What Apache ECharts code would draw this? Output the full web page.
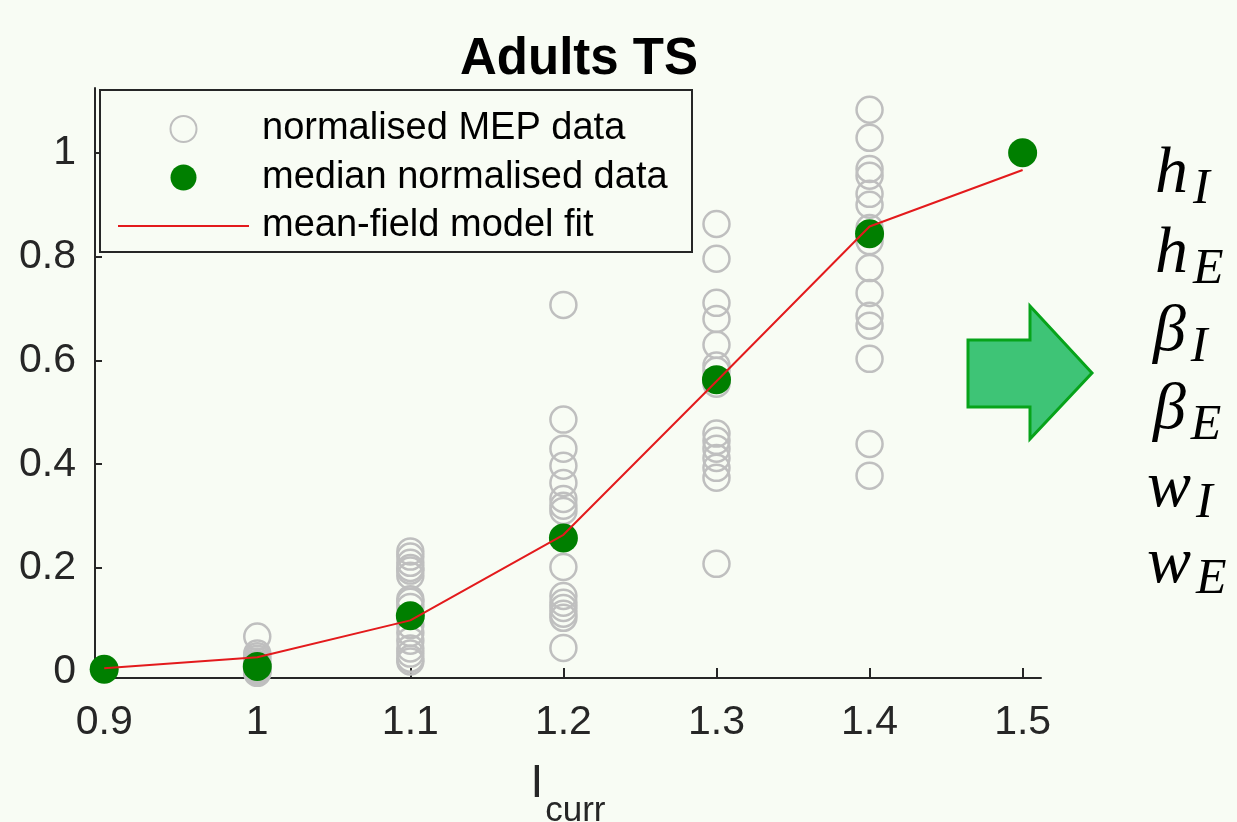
<!DOCTYPE html>
<html>
<head>
<meta charset="utf-8">
<title>Adults TS</title>
<script src="https://cdn.jsdelivr.net/npm/echarts@6.0.0/dist/echarts.min.js"></script>
<style>
  html, body { margin: 0; padding: 0; background: #f8fcf4; }
  #chart { width: 1237px; height: 822px; }
</style>
</head>
<body>
<div id="chart"></div>
<script>
// stimulation intensities (x) and tick labels
var xTicks = [0.9, 1, 1.1, 1.2, 1.3, 1.4, 1.5];
var yTicks = [0, 0.2, 0.4, 0.6, 0.8, 1];

// normalised MEP data, one list per intensity
var mep10 = [0.068, 0.035, 0.03, 0.025, 0.02, 0.015, 0.01, 0.006, 0.003, 0.0, -0.002, 0.001, 0.004];
var mep11 = [0.232, 0.222, 0.21, 0.2, 0.195, 0.185, 0.14, 0.135, 0.125, 0.09, 0.075, 0.06, 0.045, 0.035, 0.025, 0.02];
var mep12 = [0.707, 0.486, 0.43, 0.397, 0.364, 0.333, 0.32, 0.31, 0.202, 0.146, 0.133, 0.123, 0.112, 0.104, 0.046];
var mep13 = [0.863, 0.796, 0.711, 0.68, 0.63, 0.59, 0.58, 0.555, 0.459, 0.445, 0.43, 0.412, 0.393, 0.374, 0.208];
var mep14 = [1.083, 1.029, 0.969, 0.956, 0.921, 0.9, 0.855, 0.83, 0.778, 0.73, 0.686, 0.667, 0.603, 0.439, 0.378];

// median of the normalised data at each intensity
var medians = [0.005, 0.01, 0.108, 0.258, 0.563, 0.844, 1.0];
// mean-field model fit at each intensity
var fit = [0.007, 0.028, 0.099, 0.264, 0.56, 0.858, 0.967];

// fitted parameters listed at the right
var params = [['h', 'I'], ['h', 'E'], ['β', 'I'], ['β', 'E'], ['w', 'I'], ['w', 'E']];

var bg = '#f8fcf4';
var axisCol = '#262626';
var sans = 'Liberation Sans, Arial, Helvetica, sans-serif';
var serif = 'Liberation Serif, serif';

function pairs(x, ys) {
    var out = [];
    for (var i = 0; i < ys.length; i++) out.push([x, ys[i]]);
    return out;
}
var mepData = [].concat(pairs(1.0, mep10), pairs(1.1, mep11), pairs(1.2, mep12), pairs(1.3, mep13), pairs(1.4, mep14));
var medData = xTicks.map(function (x, i) { return [x, medians[i]]; });
var fitData = xTicks.map(function (x, i) { return [x, fit[i]]; });

function tickText(v) { return String(+v.toFixed(2)); }

var graphics = [
    // legend frame
    { type: 'rect', z: 3, shape: { x: 100, y: 90, width: 592, height: 162 },
      style: { fill: bg, stroke: axisCol, lineWidth: 2 } },
    // arrow
    { type: 'polygon', z: 3,
      shape: { points: [[968, 340], [1030, 340], [1030, 306], [1092, 373], [1030, 439], [1030, 407], [968, 407]] },
      style: { fill: '#3ec476', stroke: '#07a31a', lineWidth: 3 } }
];
var rowY = [142, 222, 300, 378, 456, 532];
var rowX = [1155, 1155, 1153, 1153, 1147, 1147];
for (var k = 0; k < params.length; k++) {
    graphics.push({
        type: 'text', z: 3, x: rowX[k], y: rowY[k],
        style: {
            text: '{b|' + params[k][0] + '}{s|' + params[k][1] + '}',
            fill: '#000',
            rich: {
                // subscript gets a taller line box so its centre sits lower
                b: { fontFamily: serif, fontStyle: 'italic', fontSize: 66, lineHeight: 66, verticalAlign: 'top', fill: '#000' },
                s: { fontFamily: serif, fontStyle: 'italic', fontSize: 50, lineHeight: 96, padding: [0, 0, 0, 5], fill: '#000' }
            }
        }
    });
}

var myChart = echarts.init(document.getElementById('chart'), null, { renderer: 'canvas' });
var option = {
    animation: false,
    backgroundColor: bg,
    title: {
        text: 'Adults TS',
        left: 460,
        top: 34,
        padding: 0,
        textStyle: { fontFamily: sans, fontWeight: 'bold', fontSize: 51, color: '#000' }
    },
    grid: { left: 95, top: 88, right: 196, bottom: 144, outerBoundsMode: 'none' },
    legend: {
        orient: 'vertical',
        left: 117,
        top: 110,
        padding: 0,
        itemWidth: 131,
        itemHeight: 26,
        itemGap: 10.5,
        z: 4,
        data: [
            'normalised MEP data',
            'median normalised data',
            { name: 'mean-field model fit', itemStyle: { color: 'rgba(0,0,0,0)', borderWidth: 0 } }
        ],
        textStyle: { fontFamily: sans, fontSize: 38, color: '#000', padding: [0, 0, 0, 8] },
        selectedMode: false
    },
    xAxis: {
        type: 'value',
        min: 0.894,
        max: 1.512,
        name: '{a|I}{b|curr}',
        nameLocation: 'middle',
        nameGap: 83,
        nameTextStyle: {
            rich: {
                a: { fontFamily: sans, fontSize: 46, lineHeight: 46, verticalAlign: 'top', color: axisCol },
                b: { fontFamily: sans, fontSize: 35, lineHeight: 100, padding: [0, 0, 0, 2], color: axisCol }
            }
        },
        axisLine: { onZero: false, lineStyle: { color: axisCol, width: 2 } },
        axisTick: { inside: true, length: 10, customValues: xTicks, lineStyle: { color: axisCol, width: 2 } },
        axisLabel: { customValues: xTicks, formatter: tickText, margin: 24, fontFamily: sans, fontSize: 41, color: axisCol },
        splitLine: { show: false }
    },
    yAxis: {
        type: 'value',
        min: -0.012,
        max: 1.125,
        axisLine: { show: true, onZero: false, lineStyle: { color: axisCol, width: 2 } },
        axisTick: { show: true, inside: true, length: 7, customValues: yTicks, lineStyle: { color: axisCol, width: 2 } },
        axisLabel: { customValues: yTicks, formatter: tickText, margin: 19, fontFamily: sans, fontSize: 41, color: axisCol },
        splitLine: { show: false }
    },
    series: [
        {
            name: 'normalised MEP data',
            type: 'scatter',
            symbol: 'circle',
            symbolSize: 26,
            data: mepData,
            itemStyle: { color: 'rgba(0,0,0,0)', borderColor: '#bfbfbf', borderWidth: 2.5, opacity: 1 },
            emphasis: { disabled: true }
        },
        {
            name: 'median normalised data',
            type: 'scatter',
            symbol: 'circle',
            symbolSize: 29,
            data: medData,
            itemStyle: { color: '#007f00', opacity: 1 },
            emphasis: { disabled: true }
        },
        {
            name: 'mean-field model fit',
            type: 'line',
            symbol: 'none',
            data: fitData,
            lineStyle: { color: '#e31a1c', width: 2 },
            itemStyle: { color: '#e31a1c' },
            emphasis: { disabled: true }
        }
    ],
    graphic: graphics
};
myChart.setOption(option);
</script>
</body>
</html>
